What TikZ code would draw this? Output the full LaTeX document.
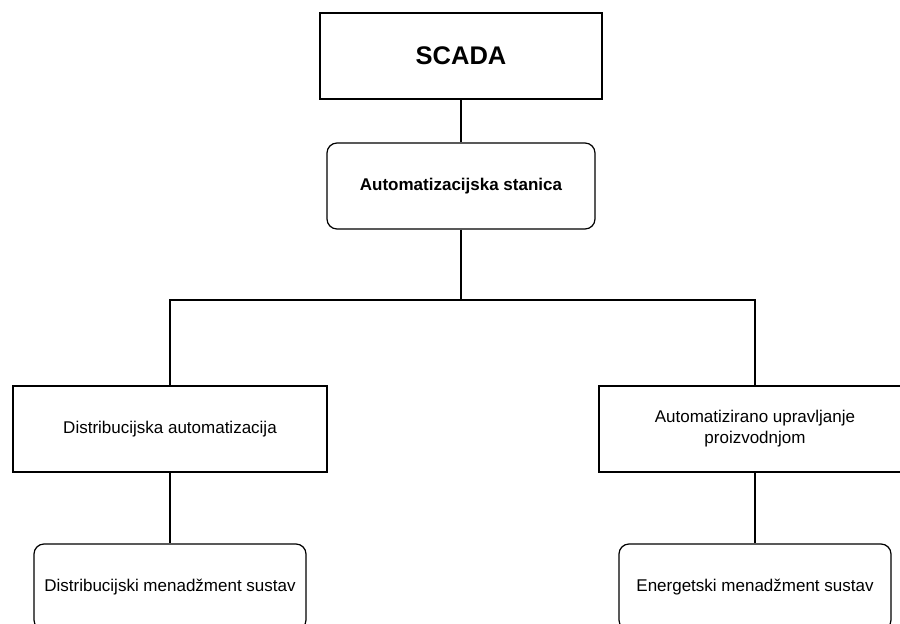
\documentclass[tikz,border=0pt]{standalone}
\usepackage{fontspec}
\setmainfont{Liberation Sans}
\begin{document}
\begin{tikzpicture}[x=1pt,y=-1pt,
  box/.style={draw=black,line width=1.2pt,fill=white,inner sep=2pt,align=center,font=\fontsize{17}{21}\selectfont},
  rbox/.style={box,rounded corners=10pt},
  conn/.style={draw=black,line width=1.2pt}]
\useasboundingbox (0,0) rectangle (900,624);
\clip (0,0) rectangle (900,624);
\fill[white] (0,0) rectangle (900,624);
\node[box,minimum width=282pt,minimum height=86pt,font=\fontsize{25.5}{30}\selectfont\bfseries] (scada) at (461,56) {SCADA};
\node[rbox,minimum width=268pt,minimum height=86pt,font=\fontsize{17}{20}\selectfont\bfseries] (stan) at (461,186) {Automatizacijska stanica};
\node[box,minimum width=314pt,minimum height=86pt] (dist) at (170,429) {Distribucijska automatizacija};
\node[box,minimum width=312pt,minimum height=86pt] (upr) at (755,429) {Automatizirano upravljanje\\proizvodnjom};
\node[rbox,minimum width=272pt,minimum height=86pt] (dms) at (170,587) {Distribucijski menadžment sustav};
\node[rbox,minimum width=272pt,minimum height=86pt] (ems) at (755,587) {Energetski menadžment sustav};
\coordinate (j) at (461,300);
\draw[conn] (scada.south) -- (stan.north);
\draw[conn] (stan.south) -- (j);
\draw[conn] (j) -| (dist.north);
\draw[conn] (j) -| (upr.north);
\draw[conn] (dist.south) -- (dms.north);
\draw[conn] (upr.south) -- (ems.north);
\end{tikzpicture}
\end{document}
